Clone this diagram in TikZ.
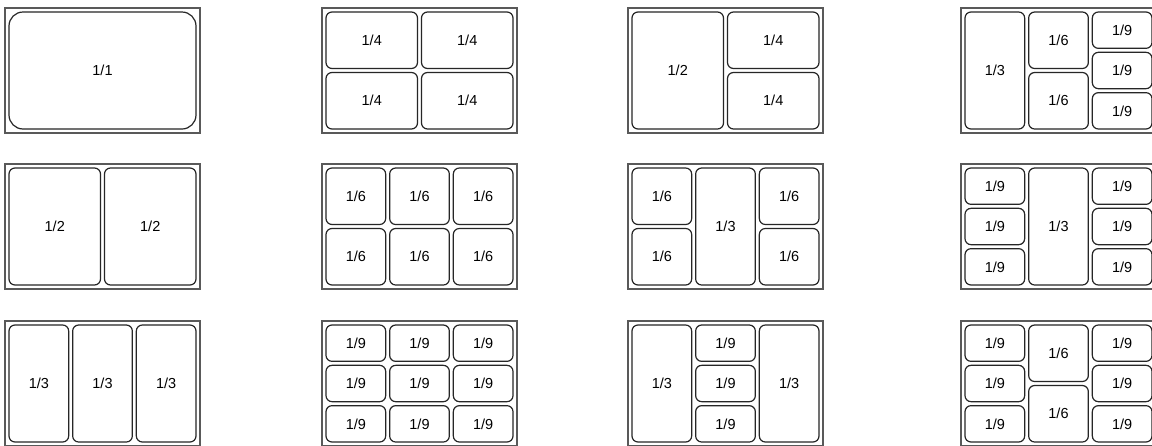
\documentclass[tikz,border=0pt]{standalone}
\usepackage{fontspec}
\setmainfont{Liberation Sans}
\tikzset{
  tray/.style={draw=black!65,line width=1.6pt,minimum width=195pt,minimum height=125pt,inner sep=0pt},
  pan/.style={draw=black!85,line width=1.2pt,rounded corners=6pt,inner sep=0pt,font=\fontsize{14.5}{16}\selectfont},
  bigpan/.style={rounded corners=14pt}
}
% \pan[opts]{name}{X}{Y}{a}{b}{c}{d}{label}
\newcommand\pan[9][]{%
  \pgfmathsetmacro\pL{#3+4+#5*191}%
  \pgfmathsetmacro\pR{#3+4+#6*191-4}%
  \pgfmathsetmacro\pT{#4+4+#7*121}%
  \pgfmathsetmacro\pB{#4+4+#8*121-4}%
  \node[pan,#1,minimum width={(\pR-\pL)*1pt},minimum height={(\pB-\pT)*1pt}] (#2) at ({(\pL+\pR)/2},{(\pT+\pB)/2}) {#9};%
}
\newcommand\tray[3]{\node[tray] (#1) at ({#2+97.5},{#3+62.5}) {};}
\begin{document}
\begin{tikzpicture}[x=1pt,y=-1pt]
\clip (0,0) rectangle (1152,445);
\fill[white] (0,0) rectangle (1152,445);
% ---------- row 1 ----------
\tray{t11}{5}{8}
\pan[bigpan]{t11a}{5}{8}{0}{1}{0}{1}{1/1}
\tray{t12}{322}{8}
\pan{t12a}{322}{8}{0}{.5}{0}{.5}{1/4}
\pan{t12b}{322}{8}{.5}{1}{0}{.5}{1/4}
\pan{t12c}{322}{8}{0}{.5}{.5}{1}{1/4}
\pan{t12d}{322}{8}{.5}{1}{.5}{1}{1/4}
\tray{t13}{628}{8}
\pan{t13a}{628}{8}{0}{.5}{0}{1}{1/2}
\pan{t13b}{628}{8}{.5}{1}{0}{.5}{1/4}
\pan{t13c}{628}{8}{.5}{1}{.5}{1}{1/4}
\tray{t14}{961}{8}
\pan{t14a}{961}{8}{0}{1/3}{0}{1}{1/3}
\pan{t14b}{961}{8}{1/3}{2/3}{0}{.5}{1/6}
\pan{t14c}{961}{8}{1/3}{2/3}{.5}{1}{1/6}
\pan{t14d}{961}{8}{2/3}{1}{0}{1/3}{1/9}
\pan{t14e}{961}{8}{2/3}{1}{1/3}{2/3}{1/9}
\pan{t14f}{961}{8}{2/3}{1}{2/3}{1}{1/9}
% ---------- row 2 ----------
\tray{t21}{5}{164}
\pan{t21a}{5}{164}{0}{.5}{0}{1}{1/2}
\pan{t21b}{5}{164}{.5}{1}{0}{1}{1/2}
\tray{t22}{322}{164}
\pan{t22a}{322}{164}{0}{1/3}{0}{.5}{1/6}
\pan{t22b}{322}{164}{1/3}{2/3}{0}{.5}{1/6}
\pan{t22c}{322}{164}{2/3}{1}{0}{.5}{1/6}
\pan{t22d}{322}{164}{0}{1/3}{.5}{1}{1/6}
\pan{t22e}{322}{164}{1/3}{2/3}{.5}{1}{1/6}
\pan{t22f}{322}{164}{2/3}{1}{.5}{1}{1/6}
\tray{t23}{628}{164}
\pan{t23a}{628}{164}{0}{1/3}{0}{.5}{1/6}
\pan{t23b}{628}{164}{0}{1/3}{.5}{1}{1/6}
\pan{t23c}{628}{164}{1/3}{2/3}{0}{1}{1/3}
\pan{t23d}{628}{164}{2/3}{1}{0}{.5}{1/6}
\pan{t23e}{628}{164}{2/3}{1}{.5}{1}{1/6}
\tray{t24}{961}{164}
\pan{t24a}{961}{164}{0}{1/3}{0}{1/3}{1/9}
\pan{t24b}{961}{164}{0}{1/3}{1/3}{2/3}{1/9}
\pan{t24c}{961}{164}{0}{1/3}{2/3}{1}{1/9}
\pan{t24d}{961}{164}{1/3}{2/3}{0}{1}{1/3}
\pan{t24e}{961}{164}{2/3}{1}{0}{1/3}{1/9}
\pan{t24f}{961}{164}{2/3}{1}{1/3}{2/3}{1/9}
\pan{t24g}{961}{164}{2/3}{1}{2/3}{1}{1/9}
% ---------- row 3 ----------
\tray{t31}{5}{321}
\pan{t31a}{5}{321}{0}{1/3}{0}{1}{1/3}
\pan{t31b}{5}{321}{1/3}{2/3}{0}{1}{1/3}
\pan{t31c}{5}{321}{2/3}{1}{0}{1}{1/3}
\tray{t32}{322}{321}
\pan{t32a}{322}{321}{0}{1/3}{0}{1/3}{1/9}
\pan{t32b}{322}{321}{1/3}{2/3}{0}{1/3}{1/9}
\pan{t32c}{322}{321}{2/3}{1}{0}{1/3}{1/9}
\pan{t32d}{322}{321}{0}{1/3}{1/3}{2/3}{1/9}
\pan{t32e}{322}{321}{1/3}{2/3}{1/3}{2/3}{1/9}
\pan{t32f}{322}{321}{2/3}{1}{1/3}{2/3}{1/9}
\pan{t32g}{322}{321}{0}{1/3}{2/3}{1}{1/9}
\pan{t32h}{322}{321}{1/3}{2/3}{2/3}{1}{1/9}
\pan{t32i}{322}{321}{2/3}{1}{2/3}{1}{1/9}
\tray{t33}{628}{321}
\pan{t33a}{628}{321}{0}{1/3}{0}{1}{1/3}
\pan{t33b}{628}{321}{1/3}{2/3}{0}{1/3}{1/9}
\pan{t33c}{628}{321}{1/3}{2/3}{1/3}{2/3}{1/9}
\pan{t33d}{628}{321}{1/3}{2/3}{2/3}{1}{1/9}
\pan{t33e}{628}{321}{2/3}{1}{0}{1}{1/3}
\tray{t34}{961}{321}
\pan{t34a}{961}{321}{0}{1/3}{0}{1/3}{1/9}
\pan{t34b}{961}{321}{0}{1/3}{1/3}{2/3}{1/9}
\pan{t34c}{961}{321}{0}{1/3}{2/3}{1}{1/9}
\pan{t34d}{961}{321}{1/3}{2/3}{0}{.5}{1/6}
\pan{t34e}{961}{321}{1/3}{2/3}{.5}{1}{1/6}
\pan{t34f}{961}{321}{2/3}{1}{0}{1/3}{1/9}
\pan{t34g}{961}{321}{2/3}{1}{1/3}{2/3}{1/9}
\pan{t34h}{961}{321}{2/3}{1}{2/3}{1}{1/9}
\end{tikzpicture}
\end{document}
